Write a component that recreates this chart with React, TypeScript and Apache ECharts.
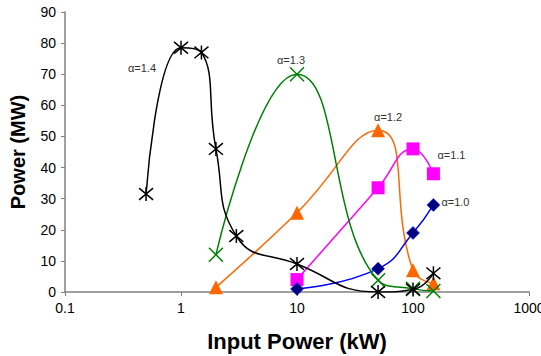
import React, { useEffect, useRef } from "react";
import * as echarts from "echarts";

// Input power (kW) and output power (MW) per alpha
const a14X = [0.5, 1, 1.5, 2, 3, 10, 50, 100, 150];
const a14Y = [31.5, 78.5, 77, 46, 18, 9, 0, 0.8, 6];

const a13X = [2, 10, 50, 100, 150];
const a13Y = [12, 70, 3.8, 1, 0.3];

const a12X = [2, 10, 50, 100, 150];
const a12Y = [1.5, 25.5, 52, 7, 2.8];

const a11X = [10, 50, 100, 150];
const a11Y = [4, 33.5, 46, 38];

const a10X = [10, 50, 100, 150];
const a10Y = [1, 7.5, 19, 28];

const xTicks = [0.1, 1, 10, 100, 1000];
const yTicks = [0, 10, 20, 30, 40, 50, 60, 70, 80, 90];

const FONT = "'Liberation Sans', Arial, sans-serif";

const STAR = "path://M0,0L10,10M10,0L0,10M5,-1L5,11";
const CROSS = "path://M0,0L10,10M10,0L0,10";

function makeData(xs: number[], ys: number[], labelIdx: number, text: string, offset: number[]) {
  return xs.map((x, i) => {
    const d: any = { value: [x, ys[i]] };
    if (i === labelIdx) {
      d.label = {
        show: true,
        formatter: text,
        position: "inside",
        offset,
        fontSize: 11,
        color: "#333",
        fontFamily: FONT,
      };
    }
    return d;
  });
}

export default function App() {
  const ref = useRef<HTMLDivElement>(null);
  useEffect(() => {
    if (!ref.current) return;
    const chart = echarts.init(ref.current, null, { renderer: "svg" });
    const lineW = 1.5;
    chart.setOption({
      animation: false,
      backgroundColor: "#fff",
      grid: {
        left: 65,
        right: 12,
        top: 12,
        bottom: 64,
        containLabel: false,
        outerBoundsMode: "none",
      },
      xAxis: {
        type: "log",
        logBase: 10,
        min: xTicks[0],
        max: xTicks[xTicks.length - 1],
        name: "Input Power (kW)",
        nameLocation: "middle",
        nameGap: 38,
        nameTextStyle: { fontSize: 22, fontWeight: "bold", color: "#000", fontFamily: FONT },
        axisLine: { lineStyle: { color: "#808080", width: 1.5 } },
        axisTick: { show: true, length: 4, lineStyle: { color: "#808080" } },
        minorTick: { show: false },
        splitLine: { show: false },
        axisLabel: {
          fontSize: 14,
          color: "#000",
          fontFamily: FONT,
          margin: 9,
          formatter: (v: number) => String(+v.toPrecision(6)),
        },
      },
      yAxis: {
        type: "value",
        min: yTicks[0],
        max: yTicks[yTicks.length - 1],
        interval: 10,
        name: "Power (MW)",
        nameLocation: "middle",
        nameGap: 37,
        nameTextStyle: { fontSize: 20, fontWeight: "bold", color: "#000", fontFamily: FONT },
        axisLine: { show: true, lineStyle: { color: "#808080", width: 1.5 } },
        axisTick: { show: true, length: 4, lineStyle: { color: "#808080" } },
        splitLine: { show: false },
        axisLabel: { fontSize: 14, color: "#000", fontFamily: FONT, margin: 9 },
      },
      series: [
        {
          name: "α=1.4",
          type: "line",
          smooth: 0.5,
          data: makeData(a14X, a14Y, 1, "α=1.4", [-39, 20]),
          lineStyle: { color: "#000", width: lineW },
          symbol: STAR,
          symbolSize: 14,
          itemStyle: { color: "#000", borderColor: "#000", borderWidth: 1.5 },
          z: 5,
        },
        {
          name: "α=1.3",
          type: "line",
          smooth: 0.5,
          data: makeData(a13X, a13Y, 1, "α=1.3", [-6, -14]),
          lineStyle: { color: "#008000", width: lineW },
          symbol: CROSS,
          symbolSize: 14,
          itemStyle: { color: "#008000", borderColor: "#008000", borderWidth: 1.5 },
          z: 4,
        },
        {
          name: "α=1.2",
          type: "line",
          smooth: 0.5,
          data: makeData(a12X, a12Y, 2, "α=1.2", [10, -13]),
          lineStyle: { color: "#FF6600", width: lineW },
          symbol: "triangle",
          symbolSize: 14,
          itemStyle: { color: "#FF6600", borderWidth: 0 },
          z: 3,
        },
        {
          name: "α=1.1",
          type: "line",
          smooth: 0.5,
          data: makeData(a11X, a11Y, 3, "α=1.1", [18, -19]),
          lineStyle: { color: "#FF00FF", width: lineW },
          symbol: "rect",
          symbolSize: 13,
          itemStyle: { color: "#FF00FF", borderWidth: 0 },
          z: 3,
        },
        {
          name: "α=1.0",
          type: "line",
          smooth: 0.5,
          data: makeData(a10X, a10Y, 3, "α=1.0", [22, -3]),
          lineStyle: { color: "#0000FF", width: lineW },
          symbol: "diamond",
          symbolSize: 13,
          itemStyle: { color: "#000080", borderColor: "#0000FF", borderWidth: 0.5 },
          z: 3,
        },
      ],
    });
    return () => chart.dispose();
  }, []);
  return (
    <div
      ref={ref}
      style={{ position: "fixed", left: 0, top: 0, width: 541, height: 356, background: "#fff" }}
    />
  );
}
